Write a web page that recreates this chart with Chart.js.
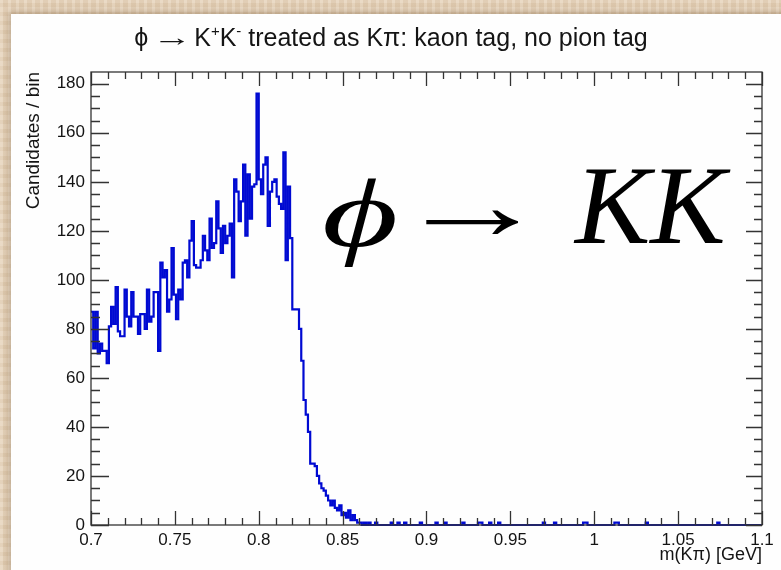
<!DOCTYPE html>
<html>
<head>
<meta charset="utf-8">
<script src="https://cdn.jsdelivr.net/npm/chart.js@4.4.1/dist/chart.umd.min.js"></script>
<style>
html, body { margin: 0; padding: 0; }
body {
    width: 781px; height: 570px; overflow: hidden; position: relative;
    background:
        repeating-linear-gradient(90deg, rgba(255,255,255,0.10) 0 3px, rgba(140,100,60,0.07) 3px 8px),
        repeating-linear-gradient(0deg, rgba(255,255,255,0.08) 0 5px, rgba(150,110,70,0.06) 5px 9px),
        #e6d3ba;
}
#panel {
    position: absolute; left: 11px; top: 14px; width: 780px; height: 566px;
    background: #fefefe;
    box-shadow: -2px -2px 6px rgba(110, 80, 50, 0.35);
}
#wrap { position: absolute; left: 0; top: 0; width: 781px; height: 570px; }
</style>
</head>
<body>
<div id="panel"></div>
<div id="wrap"><canvas id="mkpi" width="781" height="570"></canvas></div>
<script>
// histogram: 300 bins from 0.7 to 1.1 GeV
const lowEdge = 0.7;
const highEdge = 1.1;
const counts = [
    87, 72, 87, 70, 74, 71, 71, 66, 81, 89, 82, 97, 79, 77, 77, 96, 85, 81, 95, 85,
    85, 78, 86, 86, 80, 96, 83, 85, 95, 95, 71, 107, 101, 104, 87, 92, 113, 94, 84, 96,
    92, 107, 108, 101, 116, 124, 106, 105, 105, 108, 118, 112, 108, 125, 113, 115, 132, 121, 111, 122,
    115, 118, 123, 101, 141, 136, 124, 132, 147, 118, 143, 125, 138, 139, 176, 141, 135, 147, 150, 122,
    136, 140, 141, 134, 131, 129, 152, 108, 138, 117, 88, 88, 88, 80, 67, 51, 45, 38, 25, 25,
    24, 20, 17, 15, 14, 12, 10, 8, 10, 7, 6, 8, 4, 5, 3, 6, 2, 4, 2, 1,
    1, 0, 1, 0, 1, 0, 0, 1, 0, 0, 0, 0, 0, 0, 1, 0, 0, 1, 0, 0,
    1, 0, 0, 0, 0, 0, 0, 1, 0, 0, 0, 0, 0, 0, 1, 0, 0, 0, 1, 0,
    0, 0, 0, 0, 0, 0, 1, 0, 0, 0, 0, 0, 0, 1, 1, 0, 0, 0, 1, 0,
    0, 0, 1, 0, 0, 0, 0, 0, 0, 0, 0, 0, 0, 0, 0, 0, 0, 0, 0, 0,
    0, 0, 1, 0, 0, 0, 0, 1, 0, 0, 0, 0, 0, 0, 0, 0, 0, 0, 0, 0,
    1, 1, 0, 0, 0, 0, 0, 0, 0, 0, 0, 0, 0, 0, 1, 1, 0, 0, 0, 0,
    0, 0, 0, 0, 0, 0, 0, 0, 1, 0, 0, 0, 0, 0, 0, 0, 0, 0, 0, 0,
    0, 0, 0, 0, 0, 0, 0, 0, 0, 0, 0, 0, 0, 0, 0, 0, 0, 0, 0, 0,
    1, 0, 0, 0, 0, 0, 0, 0, 0, 0, 0, 0, 0, 0, 0, 0, 0, 0, 0, 0
];
const yMax = 184.8;

const xTickValues = [0.7, 0.75, 0.8, 0.85, 0.9, 0.95, 1.0, 1.05, 1.1];
const xTickLabels = ['0.7', '0.75', '0.8', '0.85', '0.9', '0.95', '1', '1.05', '1.1'];
const yTickValues = [0, 20, 40, 60, 80, 100, 120, 140, 160, 180];
const yTickLabels = ['0', '20', '40', '60', '80', '100', '120', '140', '160', '180'];

const xTitle = 'm(Kπ) [GeV]';
const yTitle = 'Candidates / bin';

const binWidth = (highEdge - lowEdge) / counts.length;
const points = counts.map((c, i) => ({ x: lowEdge + i * binWidth, y: c }));
points.push({ x: highEdge, y: counts[counts.length - 1] });

const labelFont = "'Liberation Sans', Arial, Helvetica, sans-serif";
const serifFont = "'Liberation Serif', 'DejaVu Serif', serif";
const ink = '#141414';

// draws text squeezed/stretched horizontally
function drawScaled(ctx, text, x, y, sx) {
    ctx.save();
    ctx.translate(x, y);
    ctx.scale(sx, 1);
    ctx.fillText(text, 0, 0);
    ctx.restore();
}

// ROOT style frame with ticks on all four sides
const frameTicks = {
    id: 'frameTicks',
    afterDatasetsDraw(chart) {
        const { ctx, chartArea: a, scales: { x, y } } = chart;
        ctx.save();
        ctx.strokeStyle = '#333';
        ctx.lineWidth = 1.3;
        ctx.strokeRect(a.left, a.top, a.right - a.left, a.bottom - a.top);
        ctx.beginPath();
        for (let k = 0; k <= 40; k++) {
            const v = lowEdge + k * 0.01;
            const px = Math.round(x.getPixelForValue(v)) + 0.5;
            const len = (k % 5 === 0) ? 14 : 7;
            ctx.moveTo(px, a.bottom); ctx.lineTo(px, a.bottom - len);
            ctx.moveTo(px, a.top); ctx.lineTo(px, a.top + len);
        }
        for (let v = 0; v <= yMax; v += 5) {
            const py = Math.round(y.getPixelForValue(v)) + 0.5;
            const big = v % 20 === 0;
            ctx.moveTo(a.left, py); ctx.lineTo(a.left + (big ? 18 : 9), py);
            ctx.moveTo(a.right, py); ctx.lineTo(a.right - (big ? 16 : 8), py);
        }
        ctx.stroke();
        ctx.restore();
    },
    afterDraw(chart) {
        const { ctx, chartArea: a } = chart;
        ctx.save();
        ctx.fillStyle = ink;
        ctx.textBaseline = 'alphabetic';

        // axis titles
        ctx.font = '18px ' + labelFont;
        ctx.textAlign = 'right';
        ctx.fillText(xTitle, a.right, 560);
        ctx.save();
        ctx.font = '19px ' + labelFont;
        ctx.translate(39, a.top);
        ctx.rotate(-Math.PI / 2);
        ctx.fillText(yTitle, 0, 0);
        ctx.restore();

        // title with superscripts
        const big = '25px ' + labelFont;
        const small = '15px ' + labelFont;
        const parts = [
            { t: 'ϕ', f: big, dy: 0, sx: 1, gap: 4 },
            { t: '→', f: big, dy: 0, sx: 1.6, gap: 2 },
            { t: 'K', f: big, dy: 0, sx: 1, gap: 0 },
            { t: '+', f: small, dy: -10, sx: 1, gap: 0 },
            { t: 'K', f: big, dy: 0, sx: 1, gap: 0 },
            { t: '-', f: small, dy: -10, sx: 1, gap: 0 },
            { t: ' treated as Kπ: kaon tag, no pion tag', f: big, dy: 0, sx: 1, gap: 0 }
        ];
        let total = 0;
        parts.forEach(p => { ctx.font = p.f; p.w = ctx.measureText(p.t).width * p.sx + p.gap; total += p.w; });
        let cx = 391 - total / 2;
        ctx.textAlign = 'left';
        parts.forEach(p => { ctx.font = p.f; drawScaled(ctx, p.t, cx, 46 + p.dy, p.sx); cx += p.w; });

        // big annotation
        ctx.fillStyle = '#000';
        ctx.font = 'italic 98px ' + serifFont;
        drawScaled(ctx, 'ϕ', 322, 246, 1.5);
        ctx.font = '100px ' + serifFont;
        drawScaled(ctx, '→', 395, 239, 1.55);
        ctx.font = 'italic 113px ' + serifFont;
        ctx.fillText('KK', 575, 243);
        ctx.restore();
    }
};

new Chart(document.getElementById('mkpi'), {
    type: 'line',
    data: {
        datasets: [{
            data: points,
            stepped: true,
            borderColor: 'rgb(0, 10, 210)',
            borderWidth: 2.2,
            pointRadius: 0,
            fill: false,
            clip: 4
        }]
    },
    options: {
        responsive: false,
        animation: false,
        layout: { padding: { left: 0, top: 72, right: 19, bottom: 0 } },
        plugins: { legend: { display: false }, tooltip: { enabled: false } },
        scales: {
            x: {
                type: 'linear',
                min: lowEdge,
                max: highEdge,
                grid: { display: false, drawTicks: false },
                border: { display: false },
                afterBuildTicks: s => { s.ticks = xTickValues.map(v => ({ value: v })); },
                afterFit: s => { s.height = 45; },
                ticks: {
                    autoSkip: false,
                    maxRotation: 0,
                    padding: 5,
                    color: ink,
                    font: { size: 17, family: labelFont },
                    callback: (v) => xTickLabels[xTickValues.findIndex(t => Math.abs(t - v) < 1e-9)]
                }
            },
            y: {
                min: 0,
                max: yMax,
                grid: { display: false, drawTicks: false },
                border: { display: false },
                afterBuildTicks: s => { s.ticks = yTickValues.map(v => ({ value: v })); },
                afterFit: s => { s.width = 91; },
                ticks: {
                    autoSkip: false,
                    padding: 6,
                    color: ink,
                    font: { size: 17, family: labelFont },
                    callback: (v) => yTickLabels[yTickValues.indexOf(v)]
                }
            }
        }
    },
    plugins: [frameTicks]
});
</script>
</body>
</html>
